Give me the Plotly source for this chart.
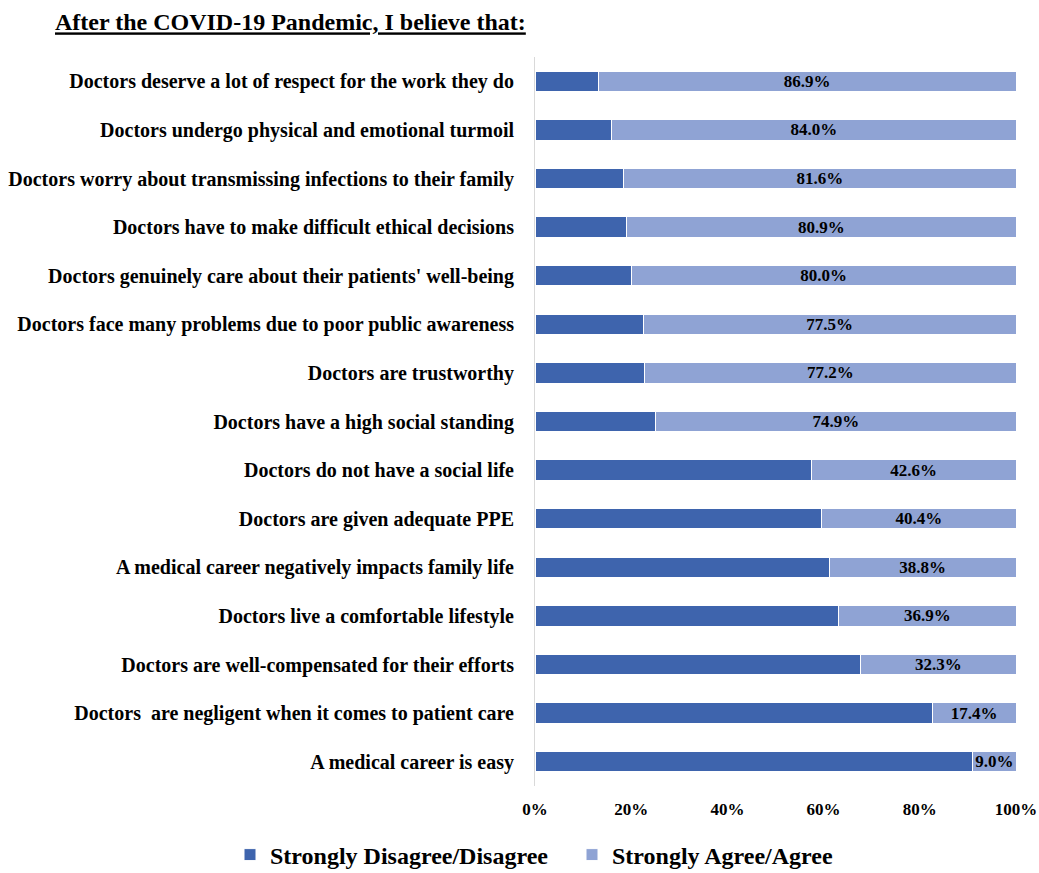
import plotly.graph_objects as go

categories = [
    "Doctors deserve a lot of respect for the work they do",
    "Doctors undergo physical and emotional turmoil",
    "Doctors worry about transmissing infections to their family",
    "Doctors have to make difficult ethical decisions",
    "Doctors genuinely care about their patients' well-being",
    "Doctors face many problems due to poor public awareness",
    "Doctors are trustworthy",
    "Doctors have a high social standing",
    "Doctors do not have a social life",
    "Doctors are given adequate PPE",
    "A medical career negatively impacts family life",
    "Doctors live a comfortable lifestyle",
    "Doctors are well-compensated for their efforts",
    "Doctors  are negligent when it comes to patient care",
    "A medical career is easy",
]
disagree = [13.1, 16.0, 18.4, 19.1, 20.0, 22.5, 22.8, 25.1, 57.4, 59.6, 61.2, 63.1, 67.7, 82.6, 91.0]
agree = [86.9, 84.0, 81.6, 80.9, 80.0, 77.5, 77.2, 74.9, 42.6, 40.4, 38.8, 36.9, 32.3, 17.4, 9.0]
tick_vals = [0, 20, 40, 60, 80, 100]
tick_text = ["0%", "20%", "40%", "60%", "80%", "100%"]

FONT = "Times New Roman, Liberation Serif, serif"
DARK = "#3E64AD"
LIGHT = "#8FA3D4"

W, H = 1039, 873
L, R, T, B = 535, 23, 57, 87

fig = go.Figure()
fig.add_trace(go.Bar(
    y=categories, x=disagree, orientation="h", name="Strongly Disagree/Disagree",
    marker=dict(color=DARK, line=dict(color="white", width=1)),
    hoverinfo="skip", legend="legend", showlegend=True,
))
fig.add_trace(go.Bar(
    y=categories, x=agree, orientation="h", name="Strongly Agree/Agree",
    marker=dict(color=LIGHT, line=dict(color="white", width=1)),
    text=[f"{v:.1f}%" for v in agree], textposition="inside",
    insidetextanchor="middle", constraintext="none",
    textfont=dict(family=FONT, size=17, color="black"),
    hoverinfo="skip", legend="legend2", showlegend=True,
))

legend_font = dict(family=FONT, size=24, color="black")
leg_y = 1 - 855 / H
fig.update_layout(
    barmode="stack",
    bargap=0.58,
    width=W, height=H,
    showlegend=True,
    margin=dict(l=L, r=R, t=T, b=B),
    paper_bgcolor="white", plot_bgcolor="white",
    font=dict(family=FONT, color="black", weight="bold"),
    title=dict(
        text="<u>After the COVID-19 Pandemic, I believe that:</u>",
        font=dict(family=FONT, size=24, color="black"),
        xref="container", x=55/W, xanchor="left",
        yref="container", y=1 - 22/H, yanchor="middle",
    ),
    legend=dict(
        orientation="h", xref="container", x=230/W, xanchor="left",
        yref="container", y=leg_y, yanchor="middle", font=legend_font, visible=True,
    ),
    legend2=dict(
        orientation="h", xref="container", x=572/W, xanchor="left",
        yref="container", y=leg_y, yanchor="middle", font=legend_font, visible=True,
    ),
    xaxis=dict(
        range=[0, 100], tickvals=tick_vals, ticktext=tick_text,
        showgrid=False, zeroline=False, showline=False,
        ticks="outside", ticklen=8, tickcolor="rgba(0,0,0,0)",
        tickfont=dict(family=FONT, size=17, color="black"),
        automargin=False,
    ),
    yaxis=dict(
        categoryorder="array", categoryarray=categories, autorange="reversed",
        showgrid=False, zeroline=False, showline=True, linecolor="#D9D9D9", linewidth=1,
        ticks="outside", ticklen=16, tickcolor="rgba(0,0,0,0)",
        tickfont=dict(family=FONT, size=20, color="black"),
        automargin=False,
    ),
)

fig.write_html("out.html", config={"displayModeBar": False},
               post_script="document.body.style.margin='0';")
